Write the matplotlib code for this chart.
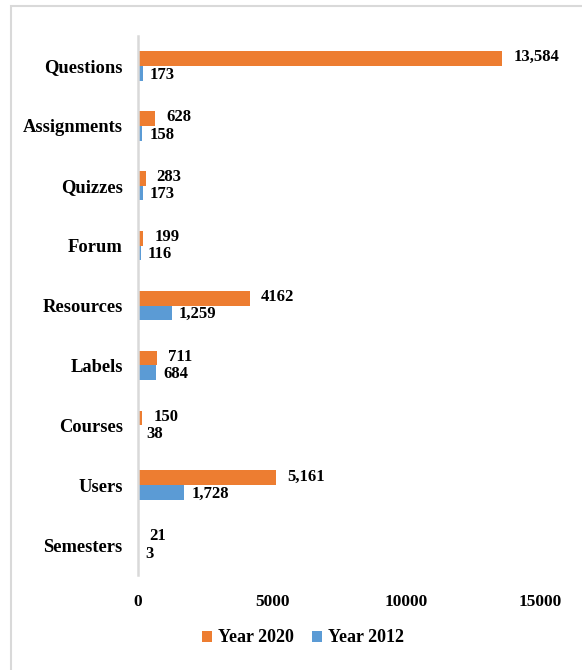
import matplotlib
matplotlib.use("Agg")
import matplotlib.pyplot as plt
from matplotlib.patches import Rectangle
import numpy as np

categories = ["Questions", "Assignments", "Quizzes", "Forum", "Resources",
              "Labels", "Courses", "Users", "Semesters"]
year2020 = [13584, 628, 283, 199, 4162, 711, 150, 5161, 21]
year2012 = [173, 158, 173, 116, 1259, 684, 38, 1728, 3]
labels2020 = ["13,584", "628", "283", "199", "4162", "711", "150", "5,161", "21"]
labels2012 = ["173", "158", "173", "116", "1,259", "684", "38", "1,728", "3"]
xticks = [0, 5000, 10000, 15000]

plt.rcParams['font.family'] = ['Liberation Serif', 'DejaVu Serif']
plt.rcParams['font.weight'] = 'bold'

fig = plt.figure(figsize=(5.82, 6.70), dpi=100)
fig.patches.append(Rectangle((11/582, -0.1), 1.2, 1 - 6/670 + 0.1,
                             transform=fig.transFigure, fill=False,
                             edgecolor='#d9d9d9', linewidth=1.5))

ax = fig.add_axes([138/582, (670-575)/670, 402/582, 539/670])
n = len(categories)
y = np.arange(n)
h = 0.245
c20 = '#ED7D31'
c12 = '#5B9BD5'
ax.barh(y - h/2, year2020, height=h, color=c20, label='Year 2020')
ax.barh(y + h/2, year2012, height=h, color=c12, label='Year 2012')

for i in range(n):
    ax.annotate(labels2020[i], (year2020[i], y[i] - h/2), xytext=(8, 1),
                textcoords='offset points', va='center', ha='left',
                fontsize=12, fontweight='bold')
    ax.annotate(labels2012[i], (year2012[i], y[i] + h/2), xytext=(5, -1),
                textcoords='offset points', va='center', ha='left',
                fontsize=12, fontweight='bold')

ax.set_ylim(n - 0.5, -0.5)
ax.set_xlim(0, 15000)
ax.set_yticks(y)
ax.set_yticklabels(categories, fontsize=13.3, fontweight='bold')
ax.set_xticks(xticks)
ax.set_xticklabels([str(t) for t in xticks], fontsize=12.5, fontweight='bold')
ax.tick_params(axis='both', length=0)
ax.tick_params(axis='y', pad=11)
ax.tick_params(axis='x', pad=14)
for s in ['top', 'right', 'bottom']:
    ax.spines[s].set_visible(False)
ax.spines['left'].set_color('#d9d9d9')
ax.spines['left'].set_linewidth(1.8)

handles, labs = ax.get_legend_handles_labels()
fig.legend(handles, labs, loc='center', bbox_to_anchor=(303/582, 1 - 638/670),
           ncol=2, frameon=False, prop={'weight': 'bold', 'size': 13},
           handlelength=0.55, handleheight=0.55, handletextpad=0.35,
           columnspacing=1.0)

fig.savefig("out.png", dpi=100)
